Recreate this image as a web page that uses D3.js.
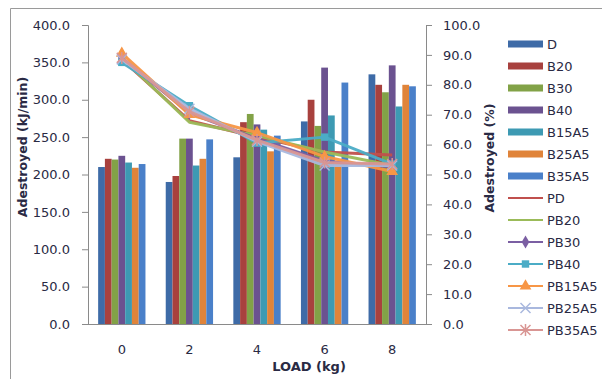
<!DOCTYPE html>
<html>
<head>
<meta charset="utf-8">
<script src="https://cdn.jsdelivr.net/npm/d3@7"></script>
<style>
  html, body { margin: 0; padding: 0; background: #fff; }
  svg { display: block; font-family: "DejaVu Sans", sans-serif; }
</style>
</head>
<body>
<svg id="chart" width="602" height="379"></svg>
<script>
// Engine load steps (kg)
const loads = ["0", "2", "4", "6", "8"];

// Exergy destroyed, kJ/min (bars, left axis)
const barSeries = ["D", "B20", "B30", "B40", "B15A5", "B25A5", "B35A5"];
const D      = [210, 190, 223, 271, 334];
const B20    = [221, 198, 270, 300, 320];
const B30    = [220, 248, 281, 265, 310];
const B40    = [225, 248, 267, 343, 346];
const B15A5  = [216, 212, 260, 279, 291];
const B25A5  = [209, 221, 231, 216, 320];
const B35A5  = [214, 247, 252, 323, 318];
const barValues = [D, B20, B30, B40, B15A5, B25A5, B35A5];

// Exergy destroyed, % (lines, right axis)
const lineSeries = ["PD", "PB20", "PB30", "PB40", "PB15A5", "PB25A5", "PB35A5"];
const PD     = [88.5, 68.0, 62.5, 57.5, 56.5];
const PB20   = [89.0, 67.5, 63.0, 57.5, 53.0];
const PB30   = [89.0, 70.5, 62.0, 54.5, 52.5];
const PB40   = [87.5, 73.0, 60.5, 62.5, 53.5];
const PB15A5 = [90.5, 70.0, 64.0, 56.0, 51.0];
const PB25A5 = [88.5, 72.0, 61.0, 53.0, 53.0];
const PB35A5 = [89.0, 71.0, 61.5, 54.0, 53.5];
const lineValues = [PD, PB20, PB30, PB40, PB15A5, PB25A5, PB35A5];

const leftTicks = [0, 50, 100, 150, 200, 250, 300, 350, 400];
const rightTicks = [0, 10, 20, 30, 40, 50, 60, 70, 80, 90, 100];

const barColors = ["#3e6ba7", "#a8413e", "#82a247", "#6b5290", "#3d9ab3", "#e0843a", "#4a80c9"];
const lineColors = ["#c0504d", "#9bbb59", "#7b5fa3", "#4bacc6", "#f79646", "#a9b8de", "#d99694"];
const markers = [null, null, "diamond", "square", "triangle", "x", "star"];

const svg = d3.select("#chart");
const plotLeft = 88, plotRight = 426, plotTop = 25, plotBottom = 324;
const textColor = "#2a2a44", axisColor = "#8a8a8a";

// chart frame
svg.append("path")
  .attr("d", `M10.5,379 V8.5 H602`)
  .attr("fill", "none").attr("stroke", "#9a9a9a").attr("stroke-width", 1);

const x = d3.scaleBand().domain(loads).range([plotLeft, plotRight]).paddingInner(0.3).paddingOuter(0.15);
const xs = d3.scaleBand().domain(barSeries).range([0, x.bandwidth()]);
const yL = d3.scaleLinear().domain([0, 400]).range([plotBottom, plotTop]);
const yR = d3.scaleLinear().domain([0, 100]).range([plotBottom, plotTop]);

// bars
barSeries.forEach((s, i) => {
  svg.append("g").selectAll("rect")
    .data(barValues[i])
    .join("rect")
    .attr("x", (d, j) => x(loads[j]) + xs(s))
    .attr("width", xs.bandwidth())
    .attr("y", d => yL(d))
    .attr("height", d => yL(0) - yL(d))
    .attr("fill", barColors[i]);
});

// axes
const axL = svg.append("g").attr("transform", `translate(${plotLeft},0)`)
  .call(d3.axisLeft(yL).tickValues(leftTicks).tickFormat(d3.format(".1f")).tickSize(6).tickPadding(12));
const axR = svg.append("g").attr("transform", `translate(${plotRight},0)`)
  .call(d3.axisRight(yR).tickValues(rightTicks).tickFormat(d3.format(".1f")).tickSize(6).tickPadding(11));
const axB = svg.append("g").attr("transform", `translate(0,${plotBottom})`)
  .call(d3.axisBottom(x).tickSize(0).tickPadding(21));
[axL, axR, axB].forEach(g => {
  g.select(".domain").attr("stroke", axisColor);
  g.selectAll(".tick line").attr("stroke", axisColor);
  g.selectAll(".tick text").attr("fill", textColor).attr("font-size", 13)
    .attr("font-family", "DejaVu Sans, sans-serif");
});
axB.select(".domain").attr("d", `M${plotLeft},0.5H${plotRight}`);

// marker shapes
function drawMarker(g, type, color, cx, cy) {
  const sym = {
    diamond: d3.symbolDiamond, square: d3.symbolSquare, triangle: d3.symbolTriangle
  }[type];
  if (sym) {
    const size = type === "square" ? 55 : type === "triangle" ? 60 : 50;
    g.append("path").attr("d", d3.symbol(sym, size)())
      .attr("transform", `translate(${cx},${cy})`).attr("fill", color);
  } else if (type === "x" || type === "star") {
    const r = 5;
    let d = `M${cx - r},${cy - r}L${cx + r},${cy + r}M${cx - r},${cy + r}L${cx + r},${cy - r}`;
    if (type === "star") d += `M${cx},${cy - r - 1}L${cx},${cy + r + 1}`;
    g.append("path").attr("d", d).attr("stroke", color).attr("stroke-width", 1.5).attr("fill", "none");
  }
}

// lines
const line = d3.line().x((d, j) => x(loads[j]) + x.bandwidth() / 2).y(d => yR(d));
lineSeries.forEach((s, i) => {
  const g = svg.append("g");
  g.append("path").datum(lineValues[i]).attr("d", line)
    .attr("fill", "none").attr("stroke", lineColors[i]).attr("stroke-width", 3)
    .attr("stroke-linejoin", "round").attr("opacity", 0.95);
  if (markers[i]) {
    lineValues[i].forEach((v, j) => drawMarker(g, markers[i], lineColors[i], x(loads[j]) + x.bandwidth() / 2, yR(v)));
  }
});

// axis titles
svg.append("text").attr("transform", "translate(27,147) rotate(-90)")
  .attr("text-anchor", "middle").attr("font-weight", "bold").attr("font-size", 12.5)
  .attr("fill", textColor).text("Adestroyed (kJ/min)");
svg.append("text").attr("transform", "translate(494,158) rotate(-90)")
  .attr("text-anchor", "middle").attr("font-weight", "bold").attr("font-size", 12.5)
  .attr("fill", textColor).text("Adestroyed (%)");
svg.append("text").attr("x", 309).attr("y", 371)
  .attr("text-anchor", "middle").attr("font-weight", "bold").attr("font-size", 13)
  .attr("fill", textColor).text("LOAD (kg)");

// legend
const legend = svg.append("g");
const allNames = barSeries.concat(lineSeries);
allNames.forEach((name, k) => {
  const yy = 44 + k * 22;
  if (k < barSeries.length) {
    legend.append("rect").attr("x", 508).attr("y", yy - 3.5).attr("width", 35).attr("height", 7)
      .attr("fill", barColors[k]);
  } else {
    const i = k - barSeries.length;
    legend.append("line").attr("x1", 508).attr("x2", 543).attr("y1", yy).attr("y2", yy)
      .attr("stroke", lineColors[i]).attr("stroke-width", 2);
    if (markers[i]) drawMarker(legend, markers[i], lineColors[i], 525.5, yy);
  }
  legend.append("text").attr("x", 547).attr("y", yy).attr("dy", "0.36em")
    .attr("font-size", 13).attr("fill", textColor).text(name);
});
</script>
</body>
</html>
